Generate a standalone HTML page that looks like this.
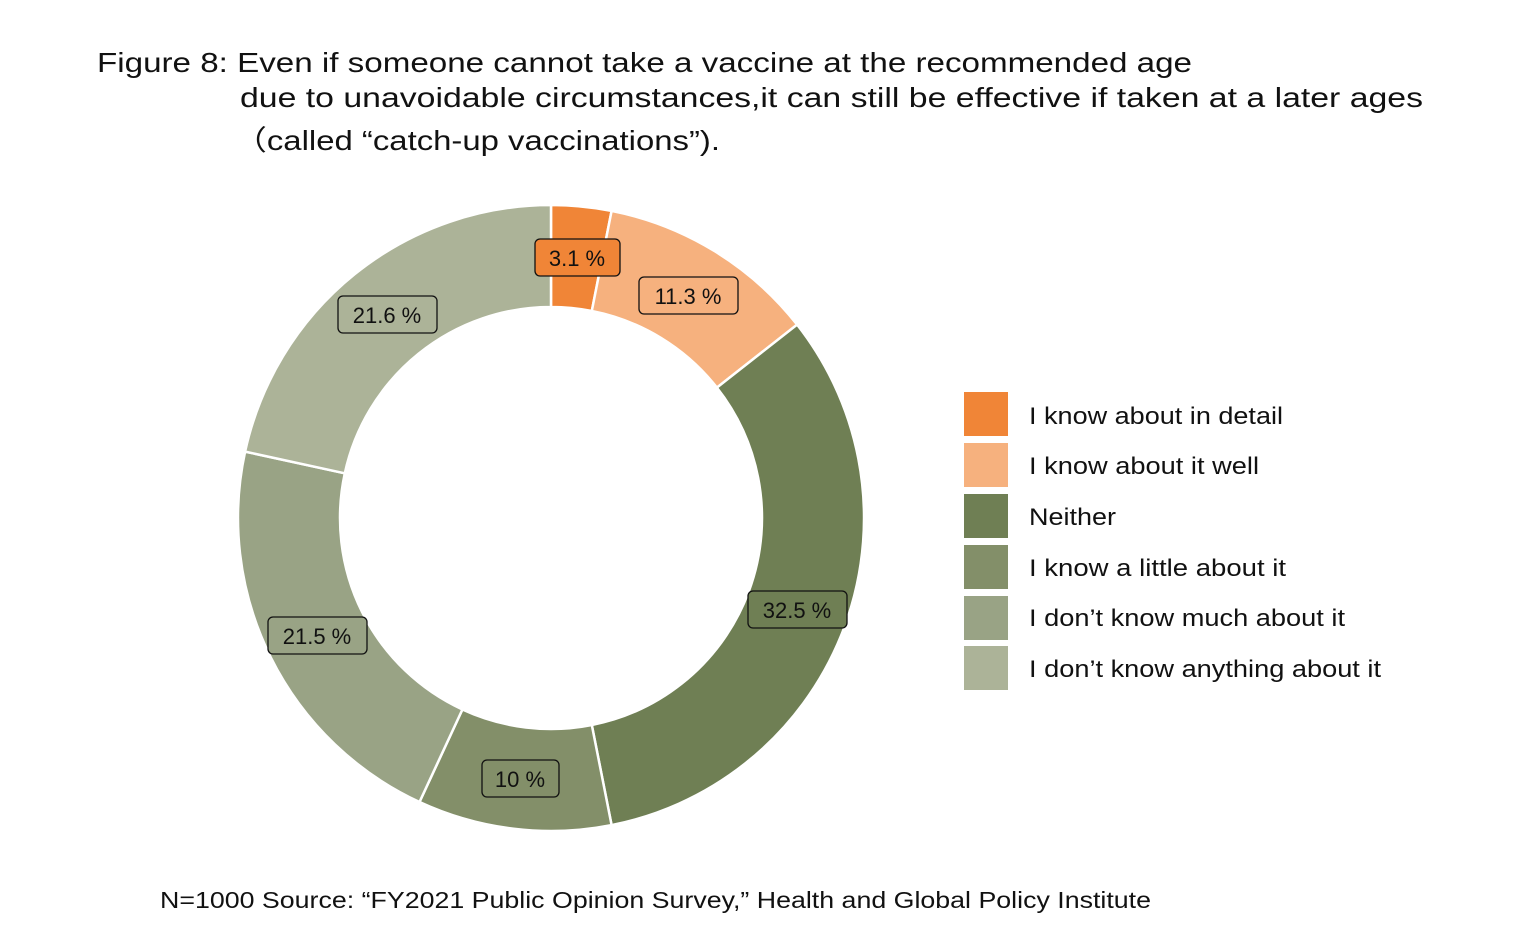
<!DOCTYPE html>
<html><head><meta charset="utf-8"><style>
body{margin:0;background:#fff;}
svg{display:block}
text{font-family:"Liberation Sans","Noto Sans CJK JP",sans-serif;}
</style></head><body>
<svg width="1540" height="951" viewBox="0 0 1540 951">
<rect width="1540" height="951" fill="#fff"/>
<g font-size="28" fill="#111" lengthAdjust="spacingAndGlyphs">
<text x="97" y="72" textLength="1095" lengthAdjust="spacingAndGlyphs">Figure 8: Even if someone cannot take a vaccine at the recommended age</text>
<text x="240" y="107" textLength="1183" lengthAdjust="spacingAndGlyphs">due to unavoidable circumstances,it can still be effective if taken at a later ages</text>
<text x="234" y="150" textLength="486" lengthAdjust="spacingAndGlyphs">（called “catch-up vaccinations”).</text>
</g>
<g stroke="#fff" stroke-width="2.5" stroke-linejoin="round">
<path d="M551,205 A313,313 0 0 1 611.6,210.9 L591.8,311.0 A211,211 0 0 0 551,307 Z" fill="#F08537"/>
<path d="M611.6,210.9 A313,313 0 0 1 797.1,324.6 L716.9,387.6 A211,211 0 0 0 591.8,311.0 Z" fill="#F6B17E"/>
<path d="M797.1,324.6 A313,313 0 0 1 611.6,825.1 L591.8,725.0 A211,211 0 0 0 716.9,387.6 Z" fill="#6F7F54"/>
<path d="M611.6,825.1 A313,313 0 0 1 419.5,802.0 L462.4,709.5 A211,211 0 0 0 591.8,725.0 Z" fill="#838F69"/>
<path d="M419.5,802.0 A313,313 0 0 1 245.1,451.6 L344.8,473.3 A211,211 0 0 0 462.4,709.5 Z" fill="#99A385"/>
<path d="M245.1,451.6 A313,313 0 0 1 551,205 L551,307 A211,211 0 0 0 344.8,473.3 Z" fill="#ACB398"/>
</g>
<g font-size="22" fill="#111" text-anchor="middle" stroke-width="1.3">
<rect x="535" y="239" width="85" height="37" rx="5" fill="#F08537" stroke="#111"/>
<text x="577" y="266" stroke="none">3.1 %</text>
<rect x="639" y="277" width="99" height="37" rx="5" fill="#F6B17E" stroke="#111"/>
<text x="688" y="304" stroke="none">11.3 %</text>
<rect x="748" y="591" width="99" height="37" rx="5" fill="#6F7F54" stroke="#111"/>
<text x="797" y="618" stroke="none">32.5 %</text>
<rect x="482" y="760" width="77" height="37" rx="5" fill="#838F69" stroke="#111"/>
<text x="520" y="787" stroke="none">10 %</text>
<rect x="268" y="617" width="99" height="37" rx="5" fill="#99A385" stroke="#111"/>
<text x="317" y="644" stroke="none">21.5 %</text>
<rect x="338" y="296" width="99" height="37" rx="5" fill="#ACB398" stroke="#111"/>
<text x="387" y="323" stroke="none">21.6 %</text>
</g>
<g>
<rect x="964" y="392" width="44" height="44" fill="#F08537"/>
<rect x="964" y="443" width="44" height="44" fill="#F6B17E"/>
<rect x="964" y="494" width="44" height="44" fill="#6F7F54"/>
<rect x="964" y="545" width="44" height="44" fill="#838F69"/>
<rect x="964" y="596" width="44" height="44" fill="#99A385"/>
<rect x="964" y="646" width="44" height="44" fill="#ACB398"/>
</g>
<g font-size="24" fill="#111">
<text x="1029" y="424" textLength="254" lengthAdjust="spacingAndGlyphs">I know about in detail</text>
<text x="1029" y="474" textLength="230" lengthAdjust="spacingAndGlyphs">I know about it well</text>
<text x="1029" y="525" textLength="87" lengthAdjust="spacingAndGlyphs">Neither</text>
<text x="1029" y="576" textLength="257" lengthAdjust="spacingAndGlyphs">I know a little about it</text>
<text x="1029" y="626" textLength="316" lengthAdjust="spacingAndGlyphs">I don’t know much about it</text>
<text x="1029" y="677" textLength="352" lengthAdjust="spacingAndGlyphs">I don’t know anything about it</text>
</g>
<text x="160" y="908" font-size="23" fill="#111" textLength="991" lengthAdjust="spacingAndGlyphs">N=1000 Source: “FY2021 Public Opinion Survey,” Health and Global Policy Institute</text>
</svg>
</body></html>
